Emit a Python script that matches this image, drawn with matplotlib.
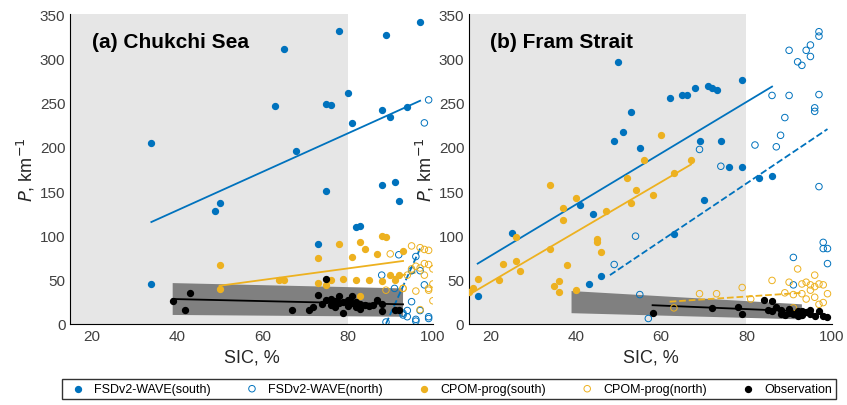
import numpy as np
import matplotlib.pyplot as plt

plt.rcParams['font.family'] = ['Liberation Sans', 'DejaVu Sans']

blue = '#0072BD'
orange = '#EDB120'

# ---- (a) Chukchi Sea ----
a_ws_x = [34, 34, 49, 50, 63, 65, 68, 73, 75, 75, 76, 78, 80, 81, 82, 83, 88, 88, 89, 90, 91, 92, 94, 97]
a_ws_y = [204, 45, 127, 136, 246, 310, 195, 90, 150, 248, 247, 331, 261, 227, 109, 110, 241, 157, 326, 234, 160, 139, 245, 341]
a_wn_x = [88, 89, 91, 92, 93, 94, 95, 95, 96, 96, 97, 97, 98, 98, 99, 99, 99, 96, 93, 94]
a_wn_y = [55, 2, 40, 78, 10, 15, 25, 60, 76, 5, 60, 15, 227, 44, 253, 8, 6, 3, 12, 8]
a_cs_x = [50, 50, 64, 65, 73, 73, 75, 78, 79, 81, 82, 83, 84, 85, 87, 88, 89, 90, 91, 92, 93, 83, 88, 76]
a_cs_y = [39, 66, 49, 50, 46, 74, 44, 90, 51, 76, 49, 92, 84, 49, 79, 99, 98, 55, 49, 55, 82, 31, 48, 50]
a_cn_x = [89, 90, 93, 93, 94, 95, 95, 96, 96, 97, 97, 98, 98, 98, 99, 99, 99, 100, 100, 100, 97, 99]
a_cn_y = [38, 79, 40, 40, 55, 88, 62, 65, 37, 86, 63, 68, 84, 55, 67, 83, 40, 62, 45, 26, 16, 38]
a_ob_x = [39, 42, 43, 67, 71, 72, 73, 74, 75, 75, 76, 76, 77, 77, 78, 78, 79, 79, 80, 80, 81, 81, 82, 82, 83, 83, 84, 85, 86, 87, 88, 88, 91, 92]
a_ob_y = [26, 16, 35, 16, 16, 19, 33, 22, 51, 27, 21, 28, 19, 26, 31, 24, 25, 12, 20, 27, 31, 23, 25, 19, 22, 17, 21, 20, 21, 27, 15, 22, 16, 16]

# ---- (b) Fram Strait ----
b_ws_x = [17, 25, 41, 43, 44, 46, 49, 50, 51, 53, 55, 62, 63, 65, 66, 68, 69, 70, 71, 72, 73, 74, 76, 79, 79, 83, 86]
b_ws_y = [31, 103, 134, 45, 124, 54, 207, 296, 217, 239, 199, 255, 101, 259, 258, 266, 207, 140, 269, 266, 264, 206, 177, 276, 177, 165, 167]
b_wn_x = [49, 54, 55, 57, 69, 74, 82, 86, 87, 88, 89, 90, 90, 91, 91, 92, 93, 94, 95, 95, 96, 96, 97, 97, 97, 97, 98, 98, 99, 99]
b_wn_y = [67, 99, 33, 6, 197, 178, 202, 258, 200, 213, 233, 309, 258, 44, 75, 296, 292, 309, 315, 302, 240, 244, 330, 325, 259, 155, 92, 85, 85, 68]
b_cs_x = [15, 16, 17, 22, 23, 26, 26, 27, 34, 34, 35, 36, 36, 37, 37, 38, 40, 40, 45, 45, 46, 47, 52, 53, 54, 56, 58, 60, 63, 67]
b_cs_y = [36, 40, 51, 50, 68, 71, 98, 60, 157, 84, 43, 36, 48, 117, 131, 66, 142, 38, 96, 92, 81, 128, 165, 137, 151, 185, 145, 213, 170, 185]
b_cn_x = [63, 69, 73, 79, 81, 86, 89, 90, 91, 91, 92, 93, 93, 94, 94, 95, 95, 96, 96, 96, 97, 97, 98, 98, 99, 92]
b_cn_y = [18, 34, 34, 41, 28, 49, 35, 47, 33, 18, 62, 34, 45, 47, 28, 38, 44, 55, 30, 42, 22, 45, 24, 44, 34, 13]
b_ob_x = [58, 72, 78, 79, 84, 85, 86, 86, 87, 88, 88, 89, 90, 90, 91, 92, 92, 93, 93, 94, 95, 95, 96, 97, 98, 99]
b_ob_y = [12, 18, 19, 11, 27, 16, 26, 14, 19, 11, 16, 10, 12, 17, 11, 15, 9, 14, 10, 13, 16, 11, 9, 14, 9, 8]

panels = [
    dict(title='(a) Chukchi Sea', ws=(a_ws_x, a_ws_y), wn=(a_wn_x, a_wn_y), cs=(a_cs_x, a_cs_y),
         cn=(a_cn_x, a_cn_y), ob=(a_ob_x, a_ob_y),
         ws_fit=([34, 97], [115, 252]), wn_fit=([89, 97], [0, 85]),
         cs_fit=([50, 93], [43, 71]), cn_fit=([90, 96], [52, 58]),
         ob_fit=([39, 93], [28, 22]), band=([39, 93, 93, 39], [46, 40, 8, 10])),
    dict(title='(b) Fram Strait', ws=(b_ws_x, b_ws_y), wn=(b_wn_x, b_wn_y), cs=(b_cs_x, b_cs_y),
         cn=(b_cn_x, b_cn_y), ob=(b_ob_x, b_ob_y),
         ws_fit=([17, 86], [68, 268]), wn_fit=([48, 99], [55, 220]),
         cs_fit=([15, 67], [33, 180]), cn_fit=([62, 93], [25, 35]),
         ob_fit=([58, 93], [21, 14]), band=([39, 93, 93, 39], [37, 22, 5, 12])),
]

fig, axes = plt.subplots(1, 2, figsize=(8.47, 4.06), dpi=100)
fig.subplots_adjust(left=0.083, right=0.982, top=0.963, bottom=0.2, wspace=0.1)

for ax, p in zip(axes, panels):
    ax.axvspan(15, 80, color='#e6e6e6', zorder=0, lw=0)
    ax.fill(p['band'][0], p['band'][1], color='#808080', lw=0, zorder=1)
    ax.plot(*p['ws_fit'], color=blue, lw=1.3, zorder=3)
    ax.plot(*p['wn_fit'], color=blue, lw=1.3, ls='--', zorder=3)
    ax.plot(*p['cs_fit'], color=orange, lw=1.3, zorder=3)
    ax.plot(*p['cn_fit'], color=orange, lw=1.3, ls='--', zorder=3)
    ax.plot(*p['ob_fit'], color='black', lw=1.3, zorder=3)
    ax.scatter(*p['ws'], s=18, color=blue, zorder=4, label='FSDv2-WAVE(south)')
    ax.scatter(*p['wn'], s=22, facecolors='none', edgecolors=blue, lw=0.7, zorder=4, label='FSDv2-WAVE(north)')
    ax.scatter(*p['cs'], s=18, color=orange, zorder=4, label='CPOM-prog(south)')
    ax.scatter(*p['cn'], s=22, facecolors='none', edgecolors=orange, lw=0.7, zorder=4, label='CPOM-prog(north)')
    ax.scatter(*p['ob'], s=18, color='black', zorder=5, label='Observation')
    ax.set_xlim(15, 100)
    ax.set_ylim(0, 350)
    ax.set_xticks([20, 40, 60, 80, 100])
    ax.set_yticks(range(0, 351, 50))
    ax.tick_params(labelsize=11, colors='#404040', direction='in', length=0)
    for s in ['top', 'right']:
        ax.spines[s].set_visible(False)
    ax.set_xlabel('SIC, %', fontsize=13, color='#262626')
    ax.set_ylabel(r'$P$, km$^{-1}$', fontsize=13, color='#262626', labelpad=2)
    ax.text(20, 330, p['title'], fontsize=15, fontweight='bold', va='top')

h, l = axes[0].get_legend_handles_labels()
fig.legend(h, l, loc='lower center', ncol=5, fontsize=9, frameon=True, fancybox=False,
           edgecolor='black', bbox_to_anchor=(0.53, 0.0), columnspacing=2.3, handletextpad=0.3,
           borderpad=0.3)
fig.savefig('out.png')
